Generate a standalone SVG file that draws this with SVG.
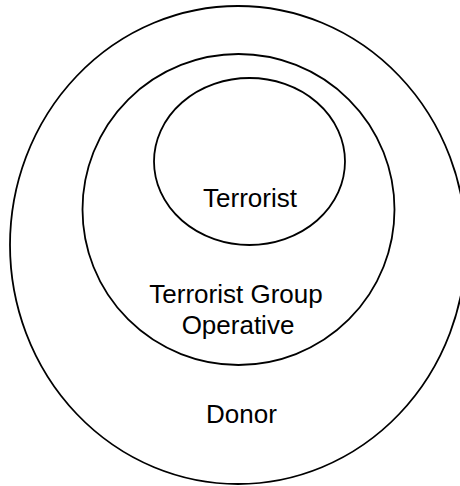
<svg xmlns="http://www.w3.org/2000/svg" width="460" height="486" viewBox="0 0 460 486">
  <style>
    .ring { fill: none; stroke: #000; stroke-width: 1.8; }
    .label { font-family: "Liberation Sans", Arial, sans-serif; font-size: 26px; fill: #000; text-anchor: middle; }
  </style>
  <rect width="460" height="486" fill="#fff"/>
  <!-- outermost ring: donor -->
  <g id="donor">
    <ellipse class="ring" cx="238" cy="245" rx="228" ry="239"/>
    <text class="label" x="241.5" y="423">Donor</text>
  </g>
  <!-- middle ring: group operative -->
  <g id="operative">
    <ellipse class="ring" cx="238.5" cy="209.5" rx="156" ry="155.5"/>
    <text class="label" x="236" y="303">Terrorist Group</text>
    <text class="label" x="238" y="334">Operative</text>
  </g>
  <!-- inner ring: terrorist -->
  <g id="terrorist">
    <ellipse class="ring" cx="249.5" cy="161.5" rx="95.5" ry="83.5"/>
    <text class="label" x="250" y="207">Terrorist</text>
  </g>
  <g id="connectors"/>
</svg>
